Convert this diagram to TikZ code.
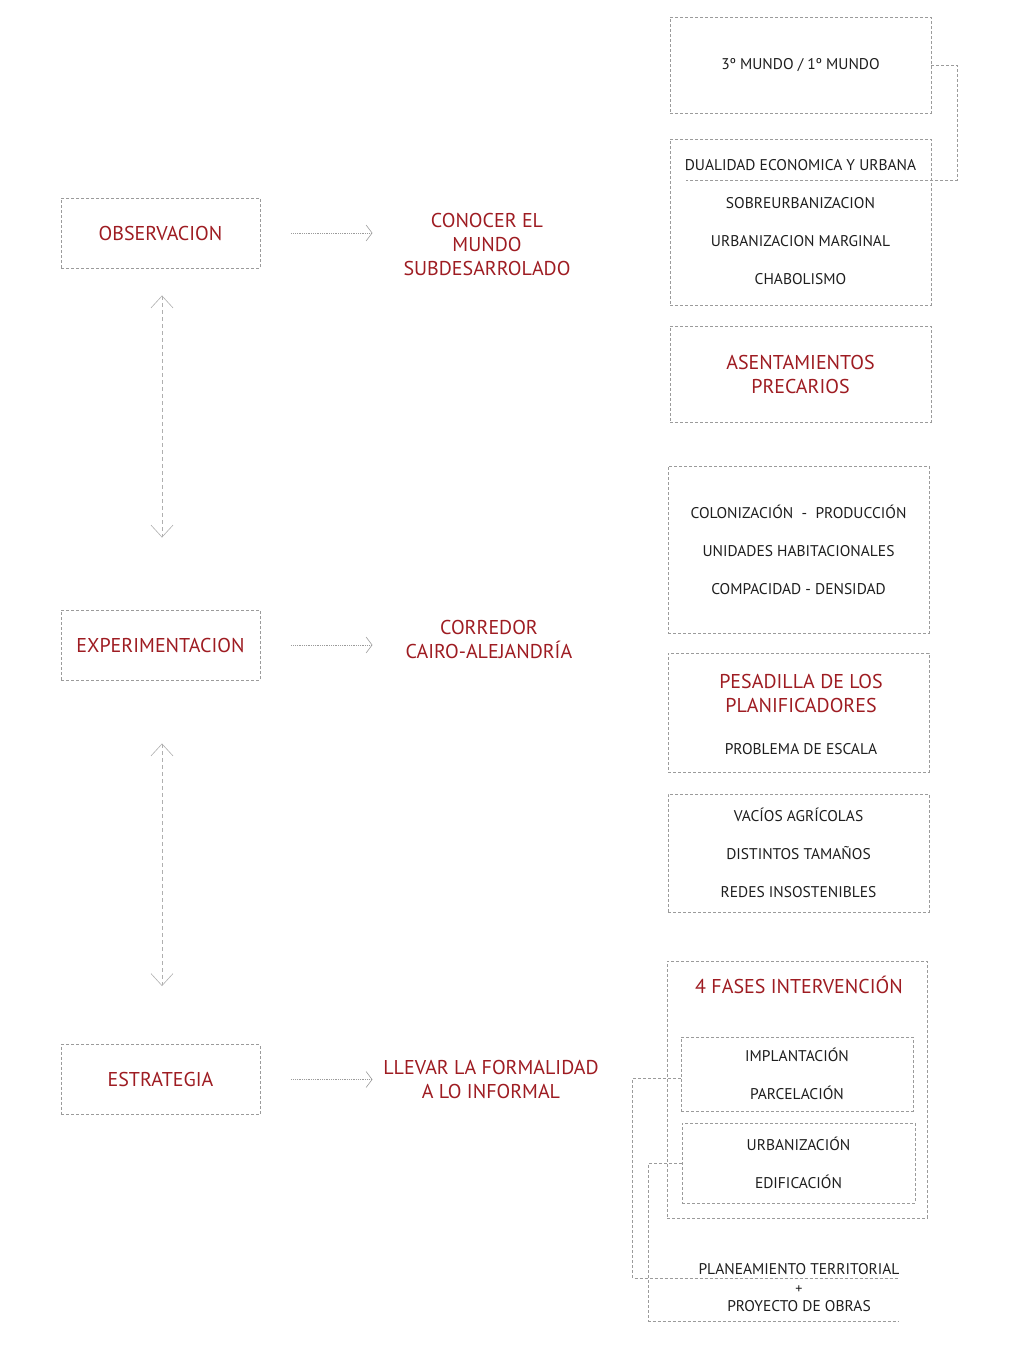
\documentclass[tikz,border=0pt]{standalone}
\usepackage{fontspec}
\setmainfont{PT Sans}
\usetikzlibrary{arrows.meta}
\definecolor{tesisred}{RGB}{158,28,34}
\definecolor{tesisgray}{RGB}{155,155,155}
\definecolor{tesisink}{RGB}{30,30,30}
\tikzset{
  box/.style={draw=tesisgray,line width=0.9pt,dash pattern=on 3pt off 2pt,
    inner sep=0pt,align=center,text=tesisink,font=\fontsize{15.5}{38}\selectfont},
  redtxt/.style={text=tesisred,align=center,font=\fontsize{20}{24}\selectfont},
  link/.style={draw=tesisgray,line width=0.9pt,dash pattern=on 3pt off 2pt},
  flow/.style={draw=tesisgray,line width=0.8pt,densely dotted,
    -{Straight Barb[length=6pt,width=16pt,line width=0.6pt]}},
  cycle/.style={draw=tesisgray!80,line width=0.8pt,dash pattern=on 4pt off 3pt,
    {Straight Barb[length=12pt,width=22pt,line width=0.6pt]}-{Straight Barb[length=12pt,width=22pt,line width=0.6pt]}}
}

\begin{document}
\begin{tikzpicture}[x=1pt,y=-1pt]
  \useasboundingbox (0,0) rectangle (1024,1365);
  % phases on the left, with what each one leads to
  \foreach \nm/\y/\txt/\res/\rx/\ry in {
      obs/233/OBSERVACION/{CONOCER EL\\MUNDO\\SUBDESARROLADO}/487/244,
      exp/645/EXPERIMENTACION/{CORREDOR\\CAIRO-ALEJANDRÍA}/489/639,
      est/1079.5/ESTRATEGIA/{LLEVAR LA FORMALIDAD\\A LO INFORMAL}/491/1079}{
    \node[box,redtxt,minimum width=199pt,minimum height=70pt] (\nm) at (160.5,\y) {\txt};
    \node[redtxt] (\nm res) at (\rx,\ry) {\res};
    \draw[flow] ([xshift=31pt]\nm.east) -- ++(81,0);
  }
  \draw[cycle] ([shift={(1.5pt,-27pt)}]obs.south) -- ([shift={(1.5pt,72pt)}]exp.north);
  \draw[cycle] ([shift={(1.5pt,-63pt)}]exp.south) -- ([shift={(1.5pt,58pt)}]est.north);

  % observacion column
  \node[box,minimum width=261pt,minimum height=96pt] (mundo) at (800.5,65) {3º MUNDO / 1º MUNDO};
  \node[box,minimum width=261pt,minimum height=166pt] (dual) at (800.5,222)
    {DUALIDAD ECONOMICA Y URBANA\\SOBREURBANIZACION\\URBANIZACION MARGINAL\\CHABOLISMO};
  \node[box,redtxt,minimum width=261pt,minimum height=96pt] (asent) at (800.5,374)
    {ASENTAMIENTOS\\PRECARIOS};
  \coordinate (dualend) at (686,180);
  \draw[link] (mundo.east) -- ++(26,0) |- (dualend);

  % experimentacion column
  \node[box,minimum width=261pt,minimum height=167pt] (colon) at (798.5,549.5)
    {COLONIZACIÓN\ \ -\ \ PRODUCCIÓN\\UNIDADES HABITACIONALES\\COMPACIDAD - DENSIDAD};
  \node[box,minimum width=261pt,minimum height=119pt] (pesad) at (798.5,712.5) {};
  \node[redtxt] (pesadtit) at (801,693) {PESADILLA DE LOS\\PLANIFICADORES};
  \node[text=tesisink,font=\fontsize{15.5}{38}\selectfont] (escala) at (801,749) {PROBLEMA DE ESCALA};
  \node[box,minimum width=261pt,minimum height=118pt] (vacios) at (798.5,853)
    {VACÍOS AGRÍCOLAS\\DISTINTOS TAMAÑOS\\REDES INSOSTENIBLES};

  % estrategia column
  \node[box,minimum width=260pt,minimum height=257pt] (fases) at (797,1089.5) {};
  \node[redtxt] (fasestit) at (799,985) {4 FASES INTERVENCIÓN};
  \node[box,minimum width=232pt,minimum height=74pt] (fase1) at (797,1074)
    {IMPLANTACIÓN\\PARCELACIÓN};
  \node[box,minimum width=233pt,minimum height=80pt] (fase2) at (798.5,1163)
    {URBANIZACIÓN\\EDIFICACIÓN};
  \node[text=tesisink,align=center,font=\fontsize{15.5}{18.5}\selectfont] (plan) at (799,1288)
    {PLANEAMIENTO TERRITORIAL\\{\fontsize{14}{18.5}\selectfont +}\\PROYECTO DE OBRAS};
  \coordinate (planend) at (898,1278);
  \coordinate (proyend) at (898,1321);
  \draw[link] ([yshift=-4pt]fase1.west) -- ++(-48,0) |- (planend);
  \draw[link] (fase2.west) -- ++(-33,0) |- (proyend);
\end{tikzpicture}
\end{document}
